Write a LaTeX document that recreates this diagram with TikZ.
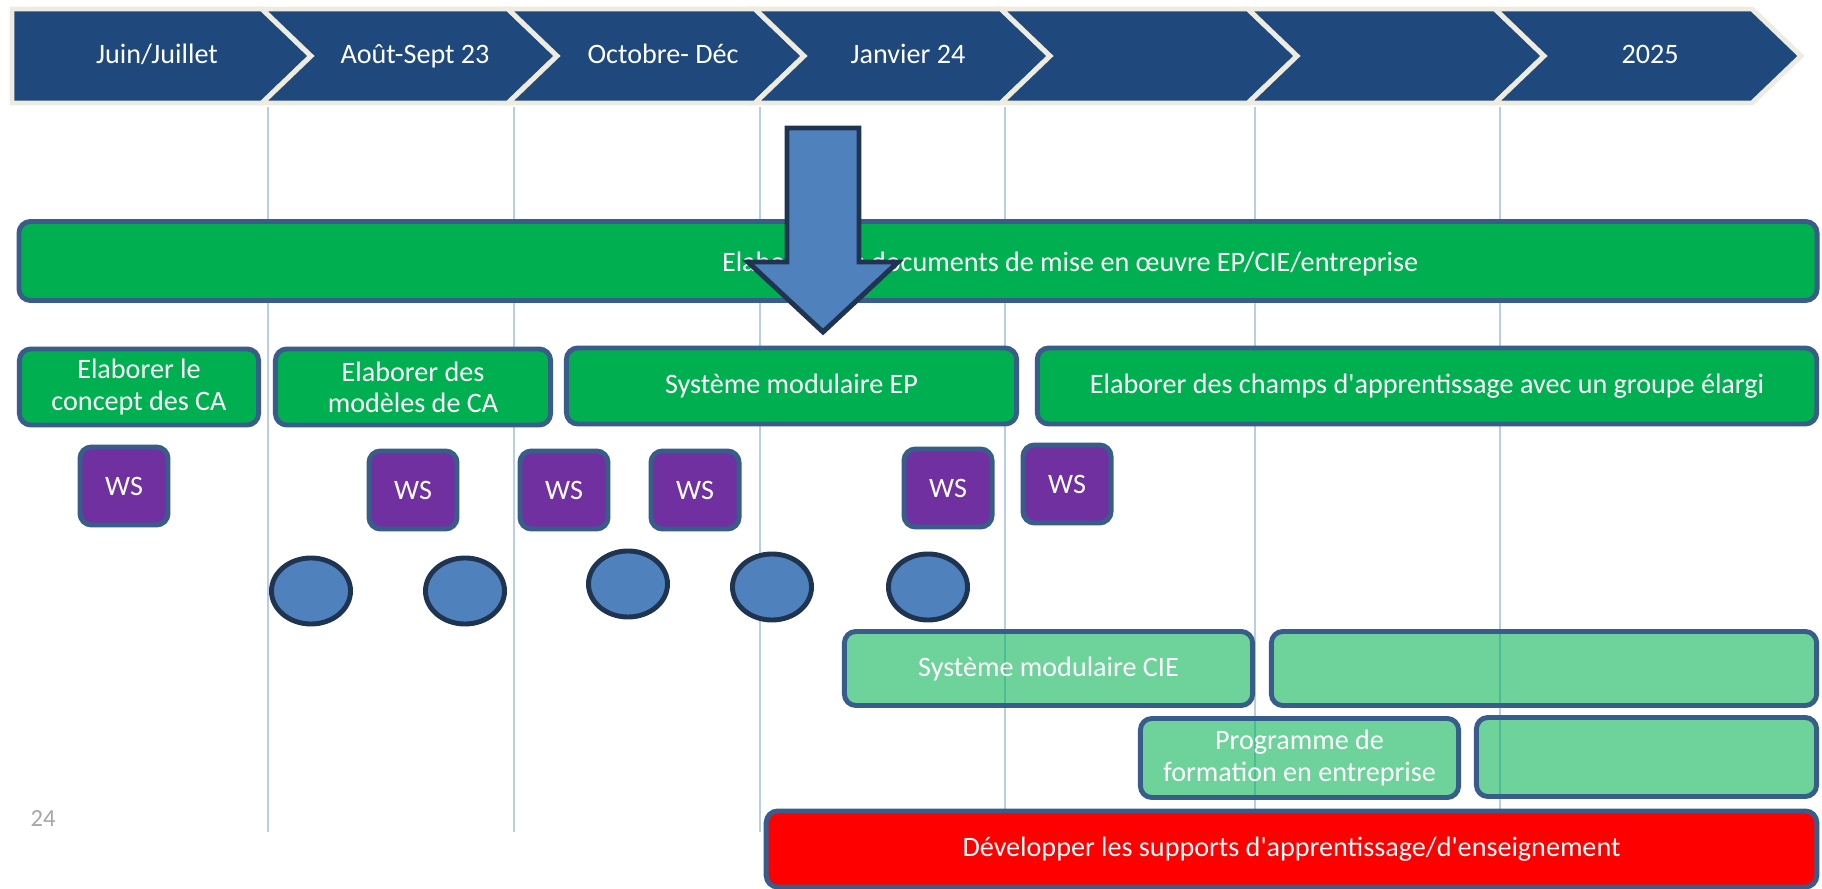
\documentclass[tikz,border=0pt]{standalone}
\usepackage{fontspec}
\setmainfont{Carlito}[Ligatures=TeXOff]
\usetikzlibrary{calc,shapes.geometric}
\definecolor{tlblue}{HTML}{1F497D}
\definecolor{tlcream}{HTML}{EEECE1}
\definecolor{tlgreen}{HTML}{00B050}
\definecolor{tledge}{HTML}{385D8A}
\definecolor{tlpurple}{HTML}{7030A0}
\definecolor{tlsky}{HTML}{4F81BD}
\definecolor{tlnavy}{HTML}{1F3451}
\definecolor{tlgrid}{HTML}{B9CDE5}
\definecolor{tlred}{HTML}{FF0000}
\definecolor{tlgray}{HTML}{A6A6A6}

\begin{document}
\begin{tikzpicture}[
  x=0.01cm,
  y=-0.01cm,
  font=\fontsize{8}{8.9}\selectfont,
  phasebox/.style={draw=tlcream, fill=tlblue, line width=1.4pt, line join=miter},
  plabel/.style={text=white, text height=6pt, text depth=1.6pt},
  gridline/.style={draw=tlgrid, line width=0.6pt},
  task/.style={rectangle, rounded corners=1.15mm, draw=tledge, line width=1.4pt, fill=tlgreen, text=white, align=center, inner sep=0pt},
  subtask/.style={task, fill opacity=0.57, text opacity=1},
  ws/.style={task, fill=tlpurple, minimum width=0.88cm, minimum height=0.78cm},
  meet/.style={ellipse, draw=tlnavy, line width=1.4pt, fill=tlsky, minimum width=0.79cm, minimum height=0.66cm, inner sep=0pt},
  bigarrow/.style={draw=tlnavy, fill=tlsky, line width=1.4pt, line join=miter}
]
  \useasboundingbox (0,0) rectangle (1822,889);
  \clip (0,0) rectangle (1822,889);
  \fill[white] (0,0) rectangle (1822,889);

  % timeline
  \draw[phasebox] (12,9) -- (262,9) -- (311,56) -- (262,103) -- (12,103) -- cycle;
  \foreach \xa/\xb in {262/508, 508/755, 755/1001, 1001/1248, 1248/1495, 1495/1752}
    \draw[phasebox] (\xa,9) -- (\xb,9) -- (\xb+49,56) -- (\xb,103) -- (\xa,103) -- (\xa+49,56) -- cycle;
  \node[plabel] (jun) at (157,56) {Juin/Juillet};
  \node[plabel] (aug) at (415,56) {Août-Sept 23};
  \node[plabel] (oct) at (663,56) {Octobre- Déc};
  \node[plabel] (jan) at (908,56) {Janvier 24};
  \node[plabel] (y25) at (1650,56) {2025};

  \foreach \gx in {268,514,760,1005,1255,1500}
    \draw[gridline] (\gx,107) -- (\gx,832);

  % tasks
  \node[task, minimum width=17.97cm, minimum height=0.79cm,
    label={[text=white, xshift=1.52cm, yshift=-0.03cm]center:Elaborer des documents de mise en œuvre EP/CIE/entreprise}] (impl) at (918,261) {};
  \node[task, minimum width=2.39cm, minimum height=0.76cm] (ca) at (139,387) {Elaborer le\\concept des CA};
  \node[task, minimum width=2.75cm, minimum height=0.76cm] (mod) at (413,387) {Elaborer des\\modèles de CA};
  \node[task, minimum width=4.50cm, minimum height=0.76cm] (ep) at (791.5,386) {Système modulaire EP};
  \node[task, minimum width=7.79cm, minimum height=0.76cm] (fields) at (1427,386) {Elaborer des champs d'apprentissage avec un groupe élargi};

  % workshops
  \node[ws] (ws1) at (124,486) {WS};
  \node[ws] (ws2) at (413,490) {WS};
  \node[ws] (ws3) at (564,490) {WS};
  \node[ws] (ws4) at (695,490) {WS};
  \node[ws] (ws5) at (948,488) {WS};
  \node[ws] (ws6) at (1067,484) {WS};

  \node[meet] (m1) at (311,591) {};
  \node[meet] (m2) at (465,591) {};
  \node[meet] (m3) at (628,584) {};
  \node[meet] (m4) at (772,587) {};
  \node[meet] (m5) at (928,587) {};

  \node[subtask, minimum width=4.08cm, minimum height=0.74cm] (cie) at (1048.5,668.5) {Système modulaire CIE};
  \node[subtask, minimum width=5.45cm, minimum height=0.74cm] (cienext) at (1544,668.5) {};
  \node[subtask, minimum width=3.18cm, minimum height=0.79cm] (prog) at (1299.5,758) {Programme de\\formation en entreprise};
  \node[subtask, minimum width=3.40cm, minimum height=0.79cm] (prognext) at (1646.5,757) {};

  \node[task, fill=tlred, minimum width=10.50cm, minimum height=0.76cm] (media) at (1291.5,849) {Développer les supports d'apprentissage/d'enseignement};

  \node[text=tlgray, font=\fontsize{7}{8}\selectfont] (page) at (43,819) {24};

  % arrow
  \coordinate (arrtop) at (823,128);
  \coordinate (arrtip) at (823,332);
  \draw[bigarrow] ($(arrtop)+(-36,0)$) -- ($(arrtop)+(36,0)$) -- ($(arrtip)+(36,-70)$) -- ($(arrtip)+(75,-70)$) -- (arrtip) -- ($(arrtip)+(-75,-70)$) -- ($(arrtip)+(-36,-70)$) -- cycle;
\end{tikzpicture}
\end{document}
